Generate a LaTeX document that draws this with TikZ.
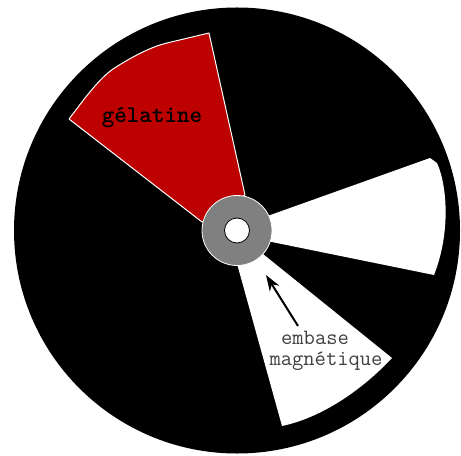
\documentclass[tikz,border=0pt]{standalone}
\usetikzlibrary{arrows.meta}
\tikzset{
  disk/.style={fill=black,draw=none},
  gel/.style={fill=gelred,draw=white,line width=1bp,line join=round},
  sector/.style={fill=white,draw=none},
  hub/.style={circle,fill=hubgray,draw=white,line width=.8bp,minimum size=70bp,inner sep=0pt},
  hole/.style={circle,fill=white,draw=black,line width=.8bp,minimum size=25bp,inner sep=0pt},
  lbl/.style={font=\fontsize{22}{22}\selectfont\ttfamily,inner sep=0pt,text=black!75},
  lblbold/.style={font=\fontsize{24}{24}\selectfont\ttfamily\bfseries,inner sep=0pt,text=black},
  pointer/.style={-{Stealth[length=16bp,width=11bp,inset=5bp]},line width=2bp,black}
}
\definecolor{gelred}{RGB}{189,0,0}
\definecolor{hubgray}{RGB}{128,128,128}
\begin{document}
\begin{tikzpicture}[x=1bp,y=-1bp]
\useasboundingbox (0,0) rectangle (461,456);
\fill[white] (0,0) rectangle (461,456);
\node[disk,circle,minimum size=446bp,inner sep=0pt] (plate) at (237,230.5) {};
\path[gel] (202,222) -- (69,119) -- (85,98) .. controls (93,88) and (103,76) .. (113,69)
  .. controls (130,58) and (150,47) .. (167,43) -- (209,33) -- (245,195) -- cycle;
\path[sector] (262,218) -- (430,158) -- (437,163) .. controls (447,185) and (451,232) .. (434,275) -- (262,240) -- cycle;
\path[sector] (258,250) -- (392,358) .. controls (360,392) and (320,418) .. (282,426) -- (236,260) -- cycle;
\node[hub] (embase) at (237,230.5) {};
\node[hole] (trou) at (237,230.5) {};
\node[lblbold] (gelatine) at (152,118) {gélatine};
\node[lbl] (t1) at (315,338) {embase};
\node[lbl] (t2) at (326,361) {magnétique};
\coordinate (from) at (298,326);
\coordinate (to) at (266,275);
\draw[pointer] (from) -- (to);
\end{tikzpicture}
\end{document}
